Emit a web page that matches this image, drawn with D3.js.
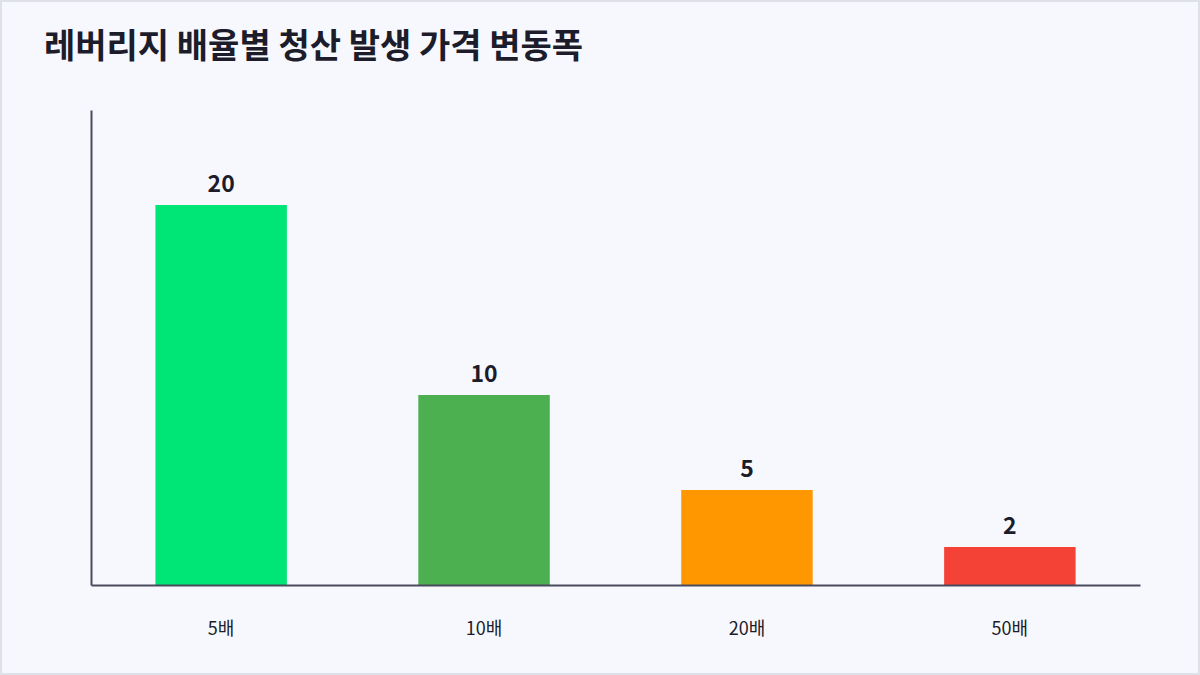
<!DOCTYPE html>
<html>
<head>
<meta charset="utf-8">
<script src="https://cdn.jsdelivr.net/npm/d3@7"></script>
<style>
  html, body { margin: 0; padding: 0; background: #f7f8fd; }
  svg { display: block; font-family: "Noto Sans CJK KR", "Noto Sans", sans-serif; }
</style>
</head>
<body>
<div id="chart"></div>
<script>
// Données du graphique
const title = "레버리지 배율별 청산 발생 가격 변동폭";
const categories = ["5배", "10배", "20배", "50배"];
const values = [20, 10, 5, 2];
const colors = ["#00e676", "#4caf50", "#ff9800", "#f44336"];

const W = 1200, H = 675;
const margin = { left: 91, right: 60, top: 110, bottom: 90 };

const svg = d3.select("#chart").append("svg")
    .attr("width", W)
    .attr("height", H);

// fond + cadre
svg.append("rect")
    .attr("x", 1).attr("y", 1)
    .attr("width", W - 2).attr("height", H - 2)
    .attr("fill", "#f7f8fd")
    .attr("stroke", "#dfe1e8")
    .attr("stroke-width", 2);

svg.append("text")
    .attr("x", 44).attr("y", 58)
    .attr("font-size", 34)
    .attr("font-weight", 700)
    .attr("fill", "#1c1c2b")
    .text(title);

const x = d3.scaleBand()
    .domain(categories)
    .range([margin.left, W - margin.right])
    .paddingInner(0.5)
    .paddingOuter(0.245);

const y = d3.scaleLinear()
    .domain([0, 25])
    .range([H - margin.bottom, margin.top]);

// barres
svg.append("g")
    .selectAll("rect")
    .data(values)
    .enter().append("rect")
    .attr("x", (d, i) => x(categories[i]))
    .attr("y", d => y(d))
    .attr("width", x.bandwidth())
    .attr("height", d => y(0) - y(d))
    .attr("fill", (d, i) => colors[i]);

// valeurs au-dessus des barres
svg.append("g")
    .selectAll("text")
    .data(values)
    .enter().append("text")
    .attr("x", (d, i) => x(categories[i]) + x.bandwidth() / 2)
    .attr("y", d => y(d) - 13)
    .attr("text-anchor", "middle")
    .attr("font-size", 23)
    .attr("font-weight", 700)
    .attr("fill", "#1c1c2b")
    .text(d => d);

// axes
const xAxis = svg.append("g")
    .attr("transform", `translate(0,${y(0)})`)
    .call(d3.axisBottom(x).tickSize(0).tickPadding(37).tickSizeOuter(0));
xAxis.select(".domain").attr("stroke", "#4a4a5e").attr("stroke-width", 2);
xAxis.selectAll("text")
    .attr("font-size", 18)
    .attr("fill", "#1c1c2b")
    .attr("font-family", "'Noto Sans CJK KR', sans-serif");

const yAxis = svg.append("g")
    .attr("transform", `translate(${margin.left},0)`)
    .call(d3.axisLeft(y).ticks(0).tickSize(0).tickSizeOuter(0));
yAxis.selectAll("text").remove();
yAxis.select(".domain").attr("stroke", "#4a4a5e").attr("stroke-width", 2);
</script>
</body>
</html>
